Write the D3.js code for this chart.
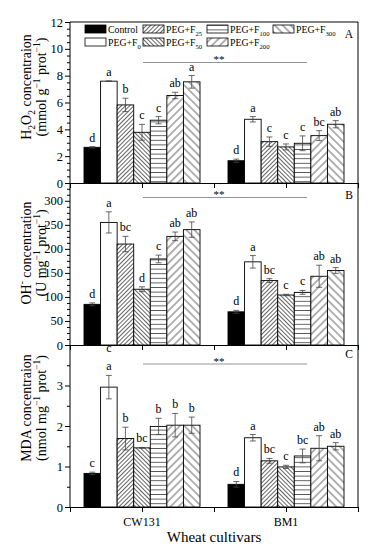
<!DOCTYPE html>
<html><head><meta charset="utf-8">
<script src="https://cdn.jsdelivr.net/npm/d3@7"></script>
<style>
html,body{margin:0;padding:0;background:#fff;}
svg{display:block;font-family:"Liberation Serif","Times New Roman",serif;}
svg text{fill:#000;}
</style></head>
<body><svg id="c" width="386" height="550"></svg>
<script>
const series = ["Control","PEG+F0","PEG+F25","PEG+F50","PEG+F100","PEG+F200","PEG+F300"];
const seriesSub = ["","0","25","50","100","200","300"];
const cultivars = ["CW131","BM1"];

const h2o2_CW131 = [2.66,7.59,5.82,3.78,4.68,6.52,7.54];
const h2o2_CW131_err = [0.05,0.02,0.5,0.59,0.27,0.24,0.47];
const h2o2_BM1 = [1.66,4.75,3.08,2.69,2.96,3.53,4.38];
const h2o2_BM1_err = [0.12,0.2,0.35,0.22,0.55,0.37,0.27];
const h2o2_CW131_sig = ["d","a","b","c","c","ab","a"];
const h2o2_BM1_sig = ["d","a","c","c","c","bc","ab"];

const oh_CW131 = [84.6,255,210,116,179,226,240];
const oh_CW131_err = [3,22,16,5,8,9,16];
const oh_BM1 = [69,173,134,104,109.5,143,155];
const oh_BM1_err = [3,13,4,1.5,4,23,6];
const oh_CW131_sig = ["d","a","bc","d","c","ab","ab"];
const oh_BM1_sig = ["d","a","bc","c","c","ab","ab"];

const mda_CW131 = [0.83,2.96,1.69,1.46,1.99,2.02,2.02];
const mda_CW131_err = [0.03,0.29,0.28,0.01,0.2,0.29,0.2];
const mda_BM1 = [0.56,1.71,1.14,0.99,1.26,1.45,1.50];
const mda_BM1_err = [0.07,0.08,0.06,0.04,0.17,0.31,0.09];
const mda_CW131_sig = ["c","a","b","bc","b","b","b"];
const mda_BM1_sig = ["d","a","bc","c","bc","ab","ab"];

const h2o2Ticks = [0,2,4,6,8,10,12];
const ohTicks = [0,50,100,150,200,250,300];
const mdaTicks = [0,1,2,3];

const svg = d3.select("#c");
const X0 = 70, X1 = 358;
const x = d3.scaleLinear().domain([0,4]).range([X0,X1]);
const groupPos = [1,3];
const sub = d3.scaleBand().domain(series).range([-58,58]).padding(0);

// patterns
const defs = svg.append("defs");
function hatch(id, spacing, angle){
  const p = defs.append("pattern").attr("id",id).attr("patternUnits","userSpaceOnUse")
    .attr("width",spacing).attr("height",spacing)
    .attr("patternTransform",`rotate(${angle})`);
  p.append("rect").attr("width",spacing).attr("height",spacing).attr("fill","#fff");
  p.append("line").attr("x1",spacing/2).attr("x2",spacing/2).attr("y1",0).attr("y2",spacing)
    .attr("stroke","#333").attr("stroke-width",0.75);
}
hatch("p25",3,45);
hatch("p50",3,-45);
hatch("p100",4.6,90);
hatch("p200",5.6,45);
hatch("p300",5.6,-45);
const fills = ["#000","#fff","url(#p25)","url(#p50)","url(#p100)","url(#p200)","url(#p300)"];

const panels = [
  {top:22,bottom:183,dom:[0,12],ticks:h2o2Ticks,minor:d3.range(0,12.01,0.5),
   data:[h2o2_CW131,h2o2_BM1],err:[h2o2_CW131_err,h2o2_BM1_err],sig:[h2o2_CW131_sig,h2o2_BM1_sig],
   letter:"A",letterY:38,lineY:62.5,
   lab1:[["H",""],["2","sub"],["O",""],["2","sub"],[" concentraion",""]],
   lab2:[["(mmol g",""],["−1","sup"],[" prot",""],["−1","sup"],[")",""]],labY:87},
  {top:183,bottom:345,dom:[0,337],ticks:ohTicks,minor:d3.range(0,337,12.5),
   data:[oh_CW131,oh_BM1],err:[oh_CW131_err,oh_BM1_err],sig:[oh_CW131_sig,oh_BM1_sig],
   letter:"B",letterY:199,lineY:197.5,
   lab1:[["OH",""],["-","sup"],[" concentration",""]],
   lab2:[["(U mg",""],["−1","sup"],[" prot",""],["−1","sup"],[")",""]],labY:253},
  {top:345,bottom:507,dom:[0,4],ticks:mdaTicks,minor:d3.range(0,4.01,0.5),
   data:[mda_CW131,mda_BM1],err:[mda_CW131_err,mda_BM1_err],sig:[mda_CW131_sig,mda_BM1_sig],
   letter:"C",letterY:358,lineY:364,
   lab1:[["MDA concentraion",""]],
   lab2:[["(nmol mg",""],["−1","sup"],[" prot",""],["−1","sup"],[")",""]],labY:408}
];

function richText(sel, parts, fs){
  let shift=0;
  parts.forEach(([t,k])=>{
    const ts = sel.append("tspan").text(t);
    let d=0;
    if(k==="sub"){ ts.attr("font-size",fs*0.68); d=fs*0.28; }
    else if(k==="sup"){ ts.attr("font-size",fs*0.68); d=-fs*0.42; }
    ts.attr("dy",d-shift); shift=d;
  });
}

panels.forEach((P,pi)=>{
  const y = d3.scaleLinear().domain(P.dom).range([P.bottom,P.top]);
  const g = svg.append("g");
  P.data.forEach((vals,gi)=>{
    const cx = x(groupPos[gi]);
    vals.forEach((v,i)=>{
      const bx = cx + sub(series[i]);
      g.append("rect").attr("x",bx).attr("y",y(v)).attr("width",sub.bandwidth()).attr("height",y(0)-y(v))
        .attr("fill",fills[i]).attr("stroke","#000").attr("stroke-width",0.9);
      const e = P.err[gi][i];
      const mx = bx + sub.bandwidth()/2;
      if(e>0.0001){
        g.append("line").attr("x1",mx).attr("x2",mx).attr("y1",y(v+e)).attr("y2",y(v-e)).attr("stroke","#444").attr("stroke-width",0.8);
        [v+e,v-e].forEach(yy=>g.append("line").attr("x1",mx-3).attr("x2",mx+3).attr("y1",y(yy)).attr("y2",y(yy)).attr("stroke","#444").attr("stroke-width",0.8));
      }
      g.append("text").attr("x",mx).attr("y",y(v+e)-5).attr("text-anchor","middle")
        .attr("font-size",12).text(P.sig[gi][i]);
    });
  });
  const ax = d3.axisLeft(y).tickValues(P.ticks).tickSize(5).tickPadding(2).tickFormat(d3.format("d"));
  const ag = svg.append("g").attr("transform",`translate(${X0},0)`).call(ax);
  ag.attr("font-family",null).attr("font-size",null);
  ag.select(".domain").remove();
  ag.selectAll("text").attr("font-size",12.5).attr("fill","#000");
  const mg = svg.append("g").attr("transform",`translate(${X0},0)`)
    .call(d3.axisLeft(y).tickValues(P.minor.filter(m=>!P.ticks.includes(m))).tickSize(3).tickFormat(""));
  mg.select(".domain").remove();
  const xa = d3.axisBottom(x).tickValues([0,1,2,3,4]).tickSize(5).tickFormat("");
  const xg = svg.append("g").attr("transform",`translate(0,${P.bottom})`).call(xa);
  xg.select(".domain").attr("stroke","#000");
  svg.append("line").attr("x1",143).attr("x2",307).attr("y1",P.lineY).attr("y2",P.lineY).attr("stroke","#888").attr("stroke-width",0.9);
  svg.append("text").attr("x",219).attr("y",P.lineY+0.5).attr("text-anchor","middle").attr("font-size",11).text("**");
  svg.append("text").attr("x",349).attr("y",P.letterY).attr("text-anchor","middle").attr("font-size",11.5).text(P.letter);
  const t1 = svg.append("text").attr("transform",`translate(31,${P.labY}) rotate(-90)`).attr("text-anchor","middle").attr("font-size",14);
  richText(t1,P.lab1,14);
  const t2 = svg.append("text").attr("transform",`translate(46,${P.labY}) rotate(-90)`).attr("text-anchor","middle").attr("font-size",14);
  richText(t2,P.lab2,14);
});

svg.append("line").attr("x1",X0).attr("x2",X1).attr("y1",22).attr("y2",22).attr("stroke","#000");
svg.append("line").attr("x1",X0).attr("x2",X0).attr("y1",22).attr("y2",507).attr("stroke","#000");
svg.append("line").attr("x1",X1).attr("x2",X1).attr("y1",22).attr("y2",507).attr("stroke","#000");

svg.append("text").attr("x",109).attr("y",352).attr("text-anchor","middle").attr("font-size",12).text("c");

cultivars.forEach((c,i)=>{
  svg.append("text").attr("x",x(groupPos[i])).attr("y",526).attr("text-anchor","middle").attr("font-size",12).text(c);
});
svg.append("text").attr("x",214).attr("y",542).attr("text-anchor","middle").attr("font-size",15).text("Wheat cultivars");

const legCols = [85,143,207,273], legRows = [25,38];
series.forEach((s,i)=>{
  const lx = legCols[Math.floor(i/2)], ly = legRows[i%2];
  svg.append("rect").attr("x",lx).attr("y",ly).attr("width",21).attr("height",8)
    .attr("fill",fills[i]).attr("stroke","#000").attr("stroke-width",0.8);
  const t = svg.append("text").attr("x",lx+23).attr("y",ly+8).attr("font-size",9.8);
  if(seriesSub[i]===""){ t.text(s); }
  else richText(t,[["PEG+F",""],[seriesSub[i],"sub"]],9.8);
});
</script></body></html>
